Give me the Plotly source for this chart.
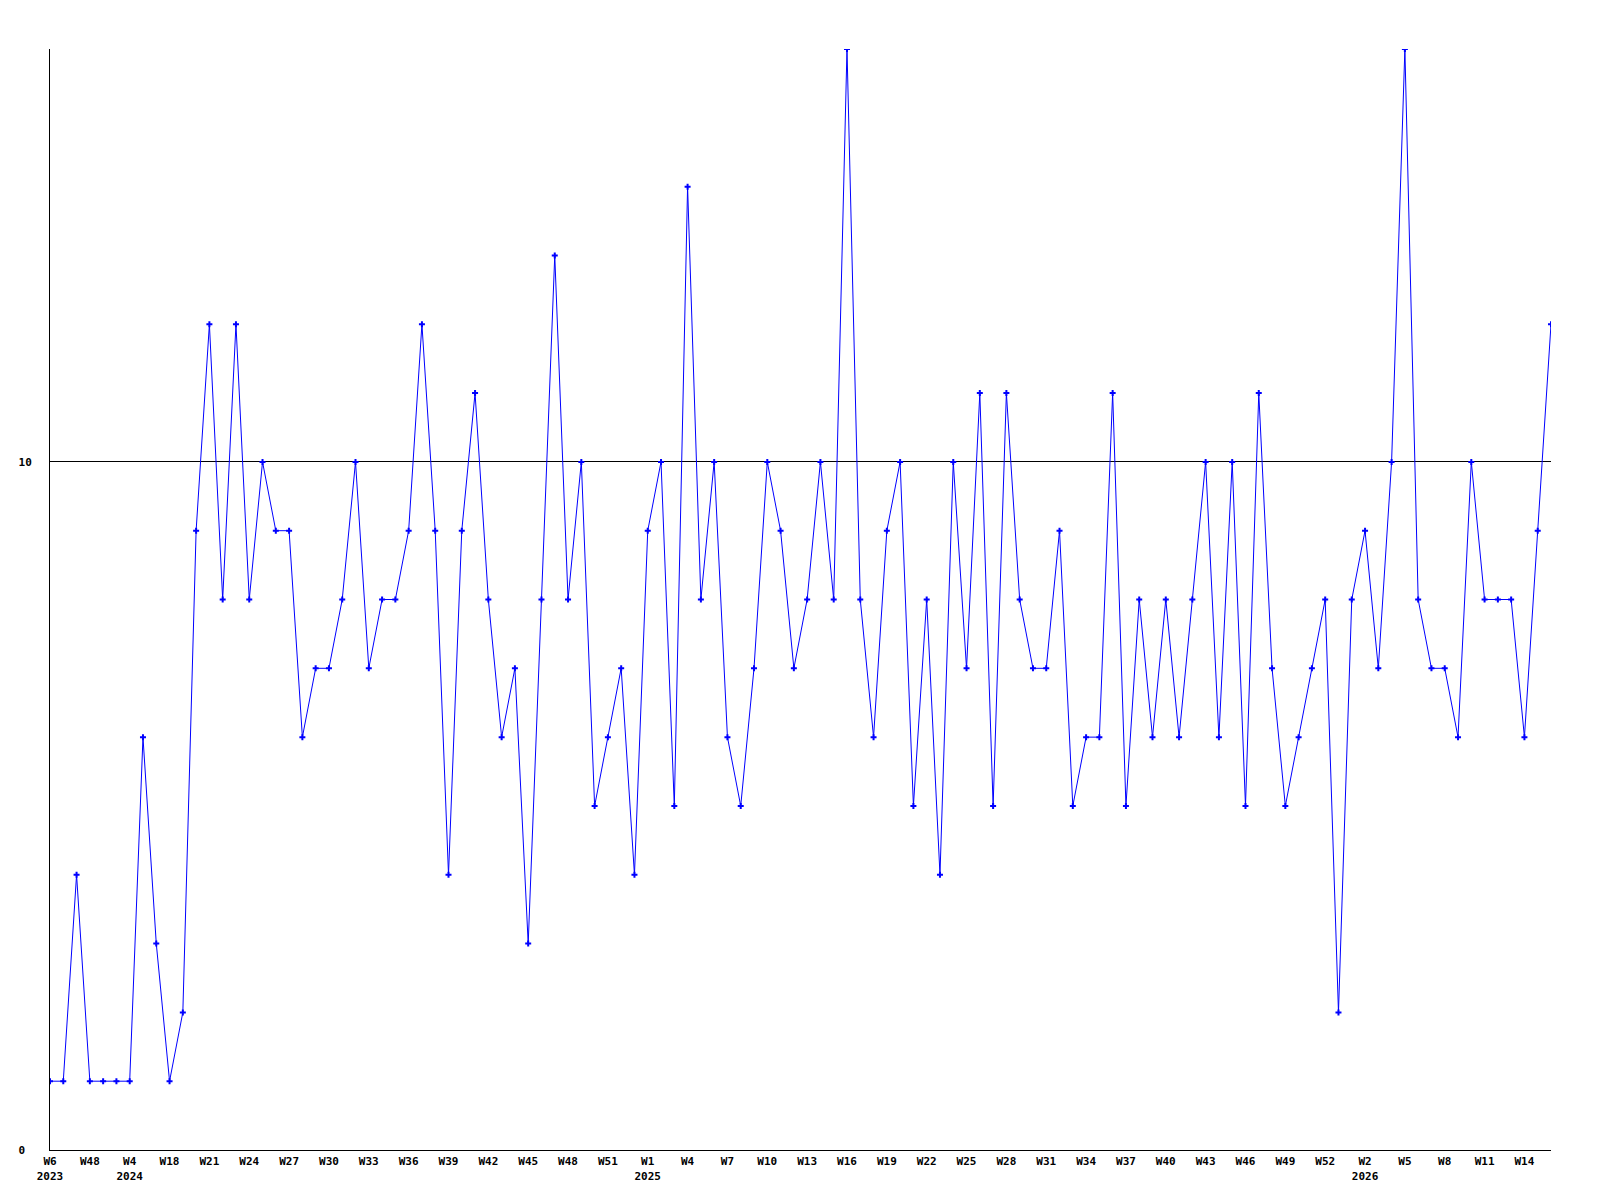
import plotly.graph_objects as go

# Weekly values (114 points)
values = [
    1, 1, 4, 1, 1, 1, 1, 6, 3, 1,
    2, 9, 12, 8, 12, 8, 10, 9, 9, 6,
    7, 7, 8, 10, 7, 8, 8, 9, 12, 9,
    4, 9, 11, 8, 6, 7, 3, 8, 13, 8,
    10, 5, 6, 7, 4, 9, 10, 5, 14, 8,
    10, 6, 5, 7, 10, 9, 7, 8, 10, 8,
    16, 8, 6, 9, 10, 5, 8, 4, 10, 7,
    11, 5, 11, 8, 7, 7, 9, 5, 6, 6,
    11, 5, 8, 6, 8, 6, 8, 10, 6, 10,
    5, 11, 7, 5, 6, 7, 8, 2, 8, 9,
    7, 10, 16, 8, 7, 7, 6, 10, 8, 8,
    8, 6, 9, 12,
]

# Tick labels, one for every third point
tick_labels = [
    "W6<br>2023", "W48", "W4<br>2024", "W18", "W21", "W24", "W27", "W30",
    "W33", "W36", "W39", "W42", "W45", "W48", "W51", "W1<br>2025", "W4",
    "W7", "W10", "W13", "W16", "W19", "W22", "W25", "W28", "W31", "W34",
    "W37", "W40", "W43", "W46", "W49", "W52", "W2<br>2026", "W5", "W8",
    "W11", "W14",
]
tick_step = 3

y_ticks = [0, 10]
y_tick_text = ["0\u00a0", "10"]

x = list(range(len(values)))
tick_positions = x[::tick_step][: len(tick_labels)]

fig = go.Figure()
fig.add_trace(
    go.Scatter(
        x=x,
        y=values,
        mode="lines+markers",
        line=dict(color="#0000ff", width=1),
        marker=dict(symbol="cross", size=5, color="#0000ff", line=dict(width=0)),
        showlegend=False,
        hoverinfo="x+y",
    )
)

font_family = "DejaVu Sans Mono"

fig.update_layout(
    width=1600,
    height=1200,
    margin=dict(l=42, r=57, t=41, b=58),
    paper_bgcolor="white",
    plot_bgcolor="white",
    font=dict(family=font_family, size=11, color="black", weight="bold"),
    xaxis=dict(
        range=[0, len(values) - 1],
        tickmode="array",
        tickvals=tick_positions,
        ticktext=tick_labels,
        showgrid=False,
        zeroline=False,
        showline=True,
        linecolor="black",
        linewidth=1,
        ticks="",
        tickangle=0,
        ticklabelstandoff=1,
        tickfont=dict(family=font_family, size=11, color="black", weight="bold"),
    ),
    yaxis=dict(
        range=[0, 16],
        tickmode="array",
        tickvals=y_ticks,
        ticktext=y_tick_text,
        showgrid=True,
        gridcolor="black",
        gridwidth=1,
        zeroline=False,
        showline=True,
        linecolor="black",
        linewidth=1,
        ticks="",
        ticklabelstandoff=15,
        tickfont=dict(family=font_family, size=11, color="black", weight="bold"),
    ),
)

fig.write_html("out.html")
